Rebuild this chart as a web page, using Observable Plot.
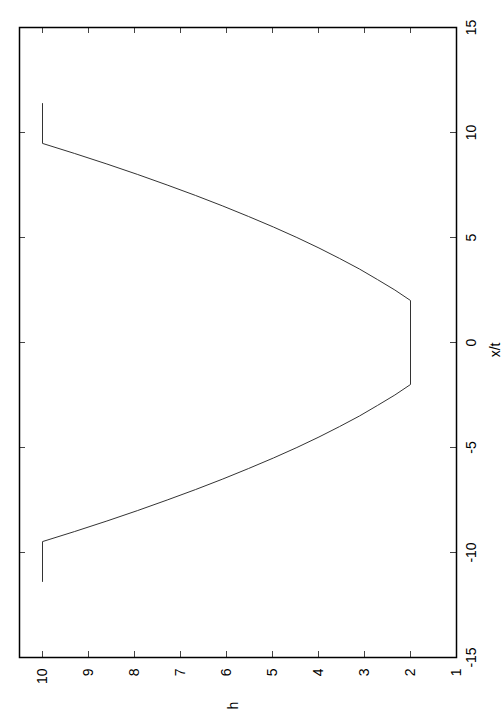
<!DOCTYPE html>
<html>
<head>
<meta charset="utf-8">
<script src="https://cdn.jsdelivr.net/npm/d3@7"></script>
<script src="https://cdn.jsdelivr.net/npm/@observablehq/plot@0.6"></script>
<style>
  html, body { margin: 0; padding: 0; background: #fff; }
</style>
</head>
<body>
<div id="chart"></div>
<script>
// x/t values (similarity variable) and depth h
const xiValues = [-11.38, -9.48, -9, -8.5, -8, -7.5, -7, -6.5, -6, -5.5, -5, -4.5, -4, -3.5, -3, -2.5, -2,
                  2, 2.5, 3, 3.5, 4, 4.5, 5, 5.5, 6, 6.5, 7, 7.5, 8, 8.5, 9, 9.48, 11.38];
const hValues  = [10, 10, 9.30, 8.60, 7.93, 7.29, 6.67, 6.08, 5.52, 4.98, 4.47, 3.99, 3.54, 3.11, 2.72, 2.34, 2.00,
                  2.00, 2.34, 2.72, 3.11, 3.54, 3.99, 4.47, 4.98, 5.52, 6.08, 6.67, 7.29, 7.93, 8.60, 9.30, 10, 10];
const hTicks = [1, 2, 3, 4, 5, 6, 7, 8, 9, 10];
const xtTicks = [-15, -10, -5, 0, 5, 10, 15];
const hLabel = ["h"];
const xtLabel = ["x/t"];

const data = xiValues.map((xi, i) => ({xi, h: hValues[i]}));

const W = 504, H = 720;
const mL = 19, mR = 48, mT = 27, mB = 63;
const innerW = W - mL - mR, innerH = H - mT - mB;
const tick = 6;

const chart = Plot.plot({
  width: W,
  height: H,
  marginLeft: mL,
  marginRight: mR,
  marginTop: mT,
  marginBottom: mB,
  style: {fontFamily: "'Liberation Sans', Arial, Helvetica, sans-serif", fontSize: "14px", color: "#000", background: "#fff", overflow: "visible"},
  x: {domain: [10.5, 1]},
  y: {domain: [-15, 15]},
  marks: [
    Plot.line(data, {x: "h", y: "xi", stroke: "#333", strokeWidth: 1}),
    Plot.tickX(hTicks, {x: d => d, insetTop: innerH - tick, stroke: "#444", strokeWidth: 1}),
    Plot.tickX(hTicks, {x: d => d, insetBottom: innerH - tick, stroke: "#444", strokeWidth: 1}),
    Plot.tickY(xtTicks, {y: d => d, insetLeft: innerW - tick, stroke: "#444", strokeWidth: 1}),
    Plot.tickY(xtTicks, {y: d => d, insetRight: innerW - tick, stroke: "#444", strokeWidth: 1}),
    Plot.axisX(hTicks, {anchor: "bottom", tickSize: 0, tickRotate: -90, tickPadding: 11, textAnchor: "end", lineAnchor: "middle", label: null, fontSize: 14, tickFormat: d => String(d)}),
    Plot.axisY(xtTicks, {anchor: "right", tickSize: 0, tickRotate: -90, tickPadding: 10, textAnchor: "middle", lineAnchor: "top", label: null, fontSize: 14, tickFormat: d => String(d)}),
    Plot.text(hLabel, {text: d => d, frameAnchor: "bottom", dy: 48, rotate: -90, fontSize: 14}),
    Plot.text(xtLabel, {text: d => d, frameAnchor: "right", dx: 39, rotate: -90, fontSize: 14}),
    Plot.frame({stroke: "#000", strokeWidth: 1.5})
  ]
});
document.getElementById("chart").appendChild(chart);
</script>
</body>
</html>
